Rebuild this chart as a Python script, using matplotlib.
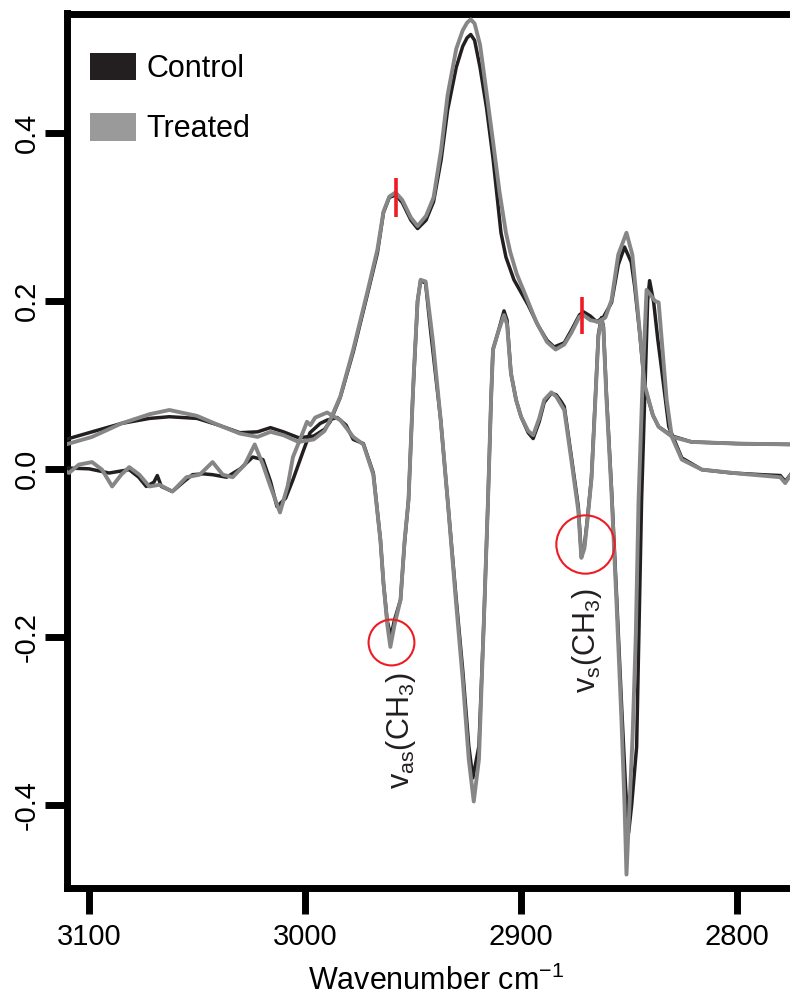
import matplotlib
matplotlib.use('Agg')
import matplotlib.pyplot as plt
from matplotlib.patches import Patch

plt.rcParams['font.family'] = ['Liberation Sans', 'DejaVu Sans']
plt.rcParams['mathtext.fontset'] = 'custom'
plt.rcParams['mathtext.rm'] = 'Liberation Sans'
plt.rcParams['mathtext.it'] = 'Liberation Sans:italic'
plt.rcParams['axes.unicode_minus'] = False

# ---------------- data ----------------
abs_ctl_w = [3110.7, 3098.6, 3085, 3072, 3062.8, 3050, 3040, 3030.2, 3022, 3016, 3010, 3003, 2996, 2991,
             2988.4, 2983.7, 2977.7, 2971.2, 2966.5, 2963.7, 2961, 2958.1, 2955, 2951, 2947.9, 2944, 2940.5,
             2937, 2934, 2930, 2927, 2925, 2923.3, 2921.5, 2919, 2916, 2913, 2911, 2909.3, 2907, 2903.3, 2900,
             2896.7, 2892, 2888, 2884.7, 2880, 2876.7, 2873, 2871.2, 2868, 2865, 2862, 2858.1, 2855, 2852.1,
             2849, 2847.4, 2845, 2842.8, 2839, 2836.3, 2830, 2821.1, 2800, 2774.4]
abs_ctl = [0.035, 0.044, 0.054, 0.060, 0.062, 0.060, 0.052, 0.043, 0.044, 0.049, 0.044, 0.037, 0.039, 0.047,
           0.056, 0.085, 0.139, 0.207, 0.257, 0.305, 0.323, 0.326, 0.317, 0.296, 0.286, 0.296, 0.318,
           0.368, 0.427, 0.478, 0.503, 0.513, 0.517, 0.510, 0.478, 0.430, 0.370, 0.322, 0.281, 0.252, 0.225, 0.210,
           0.195, 0.170, 0.153, 0.145, 0.150, 0.165, 0.183, 0.187, 0.182, 0.175, 0.180, 0.198, 0.243, 0.264,
           0.246, 0.217, 0.160, 0.098, 0.064, 0.050, 0.039, 0.032, 0.030, 0.029]

abs_trt_w = [3110.7, 3098.6, 3085, 3072, 3062.8, 3050, 3040, 3030.2, 3022, 3016, 3010, 3003, 2996, 2991,
             2988.4, 2983.7, 2977.7, 2971.2, 2966.5, 2963.7, 2961, 2958.1, 2955, 2951, 2947.9, 2944, 2940.5,
             2937, 2934, 2930, 2927, 2925, 2923.3, 2921.5, 2919, 2916, 2913, 2910, 2907, 2905, 2902, 2898,
             2893, 2888, 2884, 2880, 2876.7, 2873, 2871.2, 2868, 2864.2, 2861, 2858.1, 2855, 2851.2, 2848.5,
             2846, 2842.8, 2839, 2836.3, 2830, 2821.1, 2800, 2774.4]
abs_trt = [0.029, 0.038, 0.054, 0.065, 0.070, 0.063, 0.052, 0.042, 0.038, 0.044, 0.040, 0.032, 0.035, 0.045,
           0.058, 0.086, 0.142, 0.210, 0.261, 0.306, 0.324, 0.329, 0.320, 0.299, 0.289, 0.301, 0.323,
           0.380, 0.445, 0.500, 0.522, 0.531, 0.535, 0.530, 0.505, 0.448, 0.390, 0.330, 0.281, 0.258, 0.232, 0.207,
           0.175, 0.151, 0.142, 0.148, 0.162, 0.181, 0.183, 0.177, 0.175, 0.180, 0.201, 0.255, 0.281, 0.255,
           0.189, 0.100, 0.064, 0.050, 0.038, 0.032, 0.030, 0.029]

d2_ctl_w = [3110.7, 3100, 3090.7, 3081.4, 3077, 3073.5, 3070, 3068.4, 3066.5, 3061.4, 3056, 3052.1, 3047,
            3042.8, 3036.3, 3030, 3024.2, 3019.5, 3016, 3013.0, 3009, 3005.6, 3001, 2997.7, 2993, 2989.8,
            2985.1, 2981, 2977.7, 2973.0, 2968.4, 2965.1, 2963.7, 2962, 2960.3, 2958.6, 2955.8, 2954, 2952.1,
            2950.2, 2947.9, 2946.5, 2944.2, 2941.9, 2937.2, 2934.0, 2930.2, 2927.0, 2924.2, 2922.3, 2919.5,
            2917.2, 2915.3, 2913.9, 2913.0, 2910.7, 2907.9, 2906.5, 2904.7, 2902.3, 2900.0, 2896.7, 2894.4,
            2891.6, 2889.3, 2886.0, 2883.7, 2881.4, 2880.0, 2876.7, 2873.5, 2872.1, 2870.7, 2869.3, 2867.4,
            2865.5, 2864.2, 2862.8, 2861.9, 2860.5, 2858.1, 2855.8, 2853.5, 2851.6, 2850.2, 2848.8, 2846.5,
            2845.6, 2844.2, 2842.8, 2841.4, 2840.5, 2838.6, 2836.7, 2834.9, 2831.6, 2825.6, 2816.3, 2802.3,
            2788.4, 2780.0, 2777.7, 2774.4]
d2_ctl = [0.001, 0.000, -0.005, -0.001, -0.010, -0.021, -0.016, -0.008, -0.021, -0.027, -0.015, -0.007, -0.006,
          -0.007, -0.010, 0.000, 0.014, 0.011, -0.015, -0.045, -0.035, -0.013, 0.020, 0.043, 0.054, 0.058,
          0.061, 0.052, 0.035, 0.030, -0.005, -0.085, -0.136, -0.180, -0.200, -0.180, -0.156, -0.090, -0.037,
          0.082, 0.200, 0.224, 0.221, 0.165, 0.058, -0.037, -0.150, -0.240, -0.330, -0.368, -0.330,
          -0.180, -0.037, 0.082, 0.142, 0.162, 0.188, 0.177, 0.114, 0.082, 0.062, 0.043, 0.036,
          0.056, 0.079, 0.090, 0.088, 0.080, 0.074, 0.014, -0.045, -0.103, -0.092, -0.060, -0.010,
          0.090, 0.160, 0.180, 0.170, 0.090, -0.025, -0.150, -0.280, -0.380, -0.433, -0.400, -0.331,
          -0.215, -0.037, 0.082, 0.200, 0.224, 0.198, 0.154, 0.118, 0.050, 0.013, -0.001, -0.005,
          -0.007, -0.008, -0.015, -0.004]

d2_trt_w = [3110.7, 3109.3, 3104.7, 3098.6, 3094, 3089.3, 3085.1, 3081.4, 3076.7, 3072.1, 3067.4, 3061.4,
            3054.9, 3048.8, 3042.8, 3038.1, 3033.5, 3027.9, 3023.3, 3019.5, 3016.3, 3011.6, 3008, 3005.6,
            3002.3, 2999.1, 2997.5, 2995.3, 2989.8, 2983.7, 2977.7, 2973.0, 2968.4, 2965.1, 2963.7, 2961.9,
            2960.5, 2958.6, 2955.8, 2953.9, 2952.1, 2949.8, 2947.9, 2946.5, 2944.2, 2940.9, 2937.2, 2934.0,
            2930.2, 2927.0, 2924.2, 2921.9, 2919.5, 2917.2, 2915.3, 2913.9, 2913.0, 2910.7, 2907.9, 2906.5,
            2904.7, 2902.3, 2900.0, 2896.7, 2894.4, 2891.6, 2889.3, 2886.0, 2883.7, 2881.4, 2880.0, 2876.7,
            2873.5, 2872.1, 2870.7, 2869.3, 2867.4, 2865.5, 2864.2, 2862.8, 2861.9, 2860.5, 2858.1, 2855.8,
            2853.5, 2852.1, 2851.2, 2849.8, 2848.4, 2846.9, 2845.6, 2843.7, 2841.9, 2840.0, 2838.1, 2836.3,
            2834.9, 2832.6, 2830.2, 2825.6, 2816.3, 2797.7, 2780.0, 2777.7, 2774.4]
d2_trt = [-0.003, -0.005, 0.005, 0.008, -0.001, -0.021, -0.007, 0.002, -0.007, -0.021, -0.019, -0.027,
          -0.010, -0.007, 0.008, -0.007, -0.010, 0.005, 0.029, 0.005, -0.019, -0.052, -0.020, 0.014,
          0.035, 0.056, 0.052, 0.061, 0.067, 0.058, 0.038, 0.029, -0.007, -0.085, -0.136, -0.186,
          -0.212, -0.186, -0.156, -0.085, -0.037, 0.106, 0.200, 0.225, 0.223, 0.154, 0.058, -0.037,
          -0.156, -0.251, -0.346, -0.396, -0.346, -0.180, -0.037, 0.082, 0.142, 0.162, 0.183, 0.172,
          0.114, 0.082, 0.062, 0.045, 0.040, 0.060, 0.082, 0.091, 0.086, 0.076, 0.070, 0.010,
          -0.050, -0.106, -0.095, -0.062, -0.012, 0.088, 0.158, 0.177, 0.168, 0.085, -0.030, -0.160,
          -0.300, -0.400, -0.483, -0.400, -0.320, -0.200, -0.037, 0.106, 0.213, 0.207, 0.200, 0.198,
          0.154, 0.082, 0.038, 0.011, -0.001, -0.006, -0.010, -0.017, -0.004]

series_labels = ['Control', 'Treated']
x_ticks = [3100, 3000, 2900, 2800]
y_ticks = [-0.4, -0.2, 0.0, 0.2, 0.4]
y_ticklabels = ['-0.4', '-0.2', '0.0', '0.2', '0.4']

# red peak markers (absorbance) and circled minima (2nd derivative)
mark_w = [2958.1, 2871.6]
mark_lo = [0.300, 0.160]
mark_hi = [0.346, 0.205]
circle_w = [2960.0, 2870.2]
circle_y = [-0.206, -0.089]
circle_ms = [33, 42]
band_labels = [r'$\mathregular{v_{as}(CH_3)}$', r'$\mathregular{v_{s}(CH_3)}$']
band_w = [2955.8, 2869.3]
band_y = [-0.312, -0.204]

CTL = '#231f20'
TRT = '#868686'
TRT_PATCH = '#9a9a9a'
RED = '#ed1c24'

# ---------------- figure ----------------
W, H = 790, 999
fig = plt.figure(figsize=(W / 100, H / 100), dpi=100)
ax = fig.add_axes([67 / W, 1 - 888 / H, 1 - 67 / W, (888 - 13.5) / H])

ax.plot(abs_ctl_w, abs_ctl, color=CTL, lw=2.5, solid_joinstyle='round', zorder=3)
ax.plot(d2_ctl_w, d2_ctl, color=CTL, lw=2.5, solid_joinstyle='round', zorder=3)
ax.plot(abs_trt_w, abs_trt, color=TRT, lw=2.8, solid_joinstyle='round', zorder=4)
ax.plot(d2_trt_w, d2_trt, color=TRT, lw=2.8, solid_joinstyle='round', zorder=4)

ax.vlines(mark_w, mark_lo, mark_hi, colors=RED, lw=2.6, zorder=5)
for w, y, ms in zip(circle_w, circle_y, circle_ms):
    ax.plot([w], [y], marker='o', ms=ms, mfc='none', mec=RED, mew=1.5, zorder=5)
for lab, w, y in zip(band_labels, band_w, band_y):
    ax.text(w, y, lab, rotation=90, ha='center', va='center', fontsize=22, color='#231f20')

ax.set_xlim(3110.2, 2775.5)
ax.set_ylim(-0.499, 0.542)
ax.set_xticks(x_ticks)
ax.set_xticklabels([str(t) for t in x_ticks], fontsize=21)
ax.set_yticks(y_ticks)
ax.set_yticklabels(y_ticklabels, fontsize=21, rotation=90, va='center')

for side in ['left', 'top', 'bottom']:
    ax.spines[side].set_linewidth(5)
    ax.spines[side].set_capstyle('projecting')
    ax.spines[side].set_color('black')
ax.spines['right'].set_visible(False)
ax.tick_params(axis='x', direction='out', length=19, width=5, pad=6, color='black')
ax.tick_params(axis='y', direction='out', length=16, width=5, pad=3, color='black')
ax.tick_params(top=False, right=False)

ax.set_xlabel(r'Wavenumber cm$^{\mathregular{-1}}$', fontsize=22)
ax.xaxis.set_label_coords((436 - 67) / (W - 67), -(966 - 888) / (888 - 13.5))

handles = [Patch(facecolor=CTL, edgecolor='none', label=series_labels[0]),
           Patch(facecolor=TRT_PATCH, edgecolor='none', label=series_labels[1])]
ax.legend(handles=handles, loc='upper left', bbox_to_anchor=(90 / W, 1 - 53 / H),
          bbox_transform=fig.transFigure, frameon=False, fontsize=22,
          handlelength=1.5, handleheight=1.0, handletextpad=0.36, labelspacing=0.95,
          borderpad=0, borderaxespad=0)

fig.savefig('out.png', dpi=100)
